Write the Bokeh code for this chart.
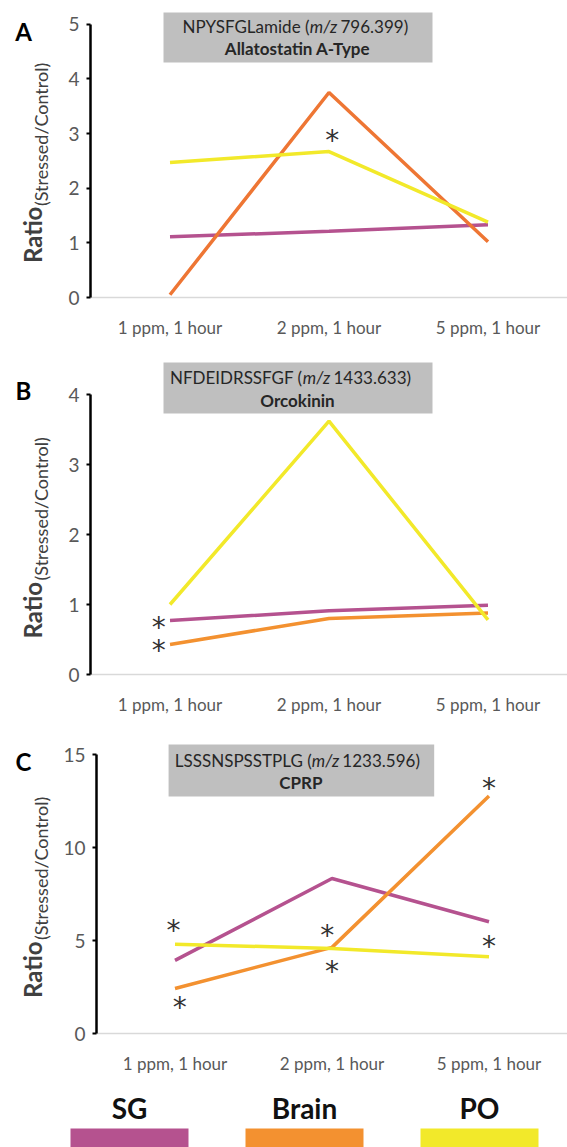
import math

from bokeh.core.properties import value
from bokeh.embed import file_html
from bokeh.layouts import column, row
from bokeh.models import FactorRange, FixedTicker, Range1d
from bokeh.plotting import figure
from bokeh.resources import INLINE

# ---------------------------------------------------------------- data
doses = ["1 ppm, 1 hour", "2 ppm, 1 hour", "5 ppm, 1 hour"]
tissues = ["SG", "Brain", "PO"]
tissue_colors = ["#B5528F", "#F39130", "#F2E92A"]

# A: NPYSFGLamide, allatostatin A-type
ast_sg = [1.11, 1.21, 1.33]
ast_brain = [0.05, 3.75, 1.02]
ast_po = [2.47, 2.67, 1.38]
ast_star_dose = [1]
ast_star_y = [2.97]
ast_star_dx = [0.02]

# B: NFDEIDRSSFGF, orcokinin
ork_sg = [0.77, 0.91, 0.99]
ork_brain = [0.43, 0.80, 0.88]
ork_po = [1.00, 3.62, 0.78]
ork_star_dose = [0, 0]
ork_star_y = [0.74, 0.42]
ork_star_dx = [-0.07, -0.07]

# C: LSSSNSPSSTPLG, CPRP
cprp_sg = [3.93, 8.33, 6.01]
cprp_brain = [2.42, 4.63, 12.77]
cprp_po = [4.80, 4.57, 4.12]
cprp_star_dose = [0, 0, 1, 1, 2, 2]
cprp_star_y = [5.79, 1.65, 5.52, 3.62, 13.44, 4.93]
cprp_star_dx = [-0.01, 0.03, -0.03, 0.0, 0.0, 0.0]

# ---------------------------------------------------------------- layout
W = 567
SIDE_W = 60          # strip holding the panel letter and the y-axis title
AXIS_W = 30          # room for the y tick labels
FRAME_LEFT = SIDE_W + AXIS_W
CAT_W = 159
FRAME_W = CAT_W * len(doses)
FONT = "Lato"
GREY_TEXT = "#595959"


def side_strip(fig_h, frame_top, frame_bottom, letter, letter_cy, label_start):
    # y data = pixels measured up from the bottom of the strip
    s = figure(width=SIDE_W, height=fig_h, x_range=Range1d(0, SIDE_W),
               y_range=Range1d(fig_h - frame_bottom, fig_h - frame_top),
               output_backend="svg", toolbar_location=None,
               min_border_left=0, min_border_right=0,
               min_border_top=frame_top, min_border_bottom=fig_h - frame_bottom,
               x_axis_type=None, y_axis_type=None)
    s.outline_line_color = None
    s.grid.visible = False
    s.text(x=[23], y=[fig_h - letter_cy], text=[letter], text_font=value(FONT),
           text_font_size="24px", text_font_style="bold", text_color="black",
           text_align="center", text_baseline="middle")
    s.text(x=[32], y=[fig_h - label_start], text=["Ratio"], angle=math.pi / 2,
           text_font=value(FONT), text_font_size="24px", text_font_style="bold",
           text_color="#404040", text_align="left", text_baseline="middle")
    s.text(x=[40], y=[fig_h - label_start + 58], text=["(Stressed/Control)"],
           angle=math.pi / 2, text_font=value(FONT), text_font_size="18px",
           text_color="#404040", text_align="left", text_baseline="middle")
    return s


def make_panel(fig_h, frame_top, frame_bottom, ymax_px, ymax, ticks,
               sg, brain, po, brain_color,
               star_dose, star_y, star_dx,
               letter, letter_cy, seq, mz, family,
               box_top, box_bottom, line1_y, line2_y, mz_cx):
    ppu = (frame_bottom - ymax_px) / ymax
    y_end = (frame_bottom - frame_top) / ppu

    def xd(px):
        return (px - FRAME_LEFT) / CAT_W

    def yd(py):
        return (frame_bottom - py) / ppu

    p = figure(width=W - SIDE_W, height=fig_h,
               x_range=FactorRange(*doses), y_range=Range1d(0, y_end),
               output_backend="svg", toolbar_location=None,
               min_border_left=AXIS_W, min_border_right=W - FRAME_LEFT - FRAME_W,
               min_border_top=frame_top, min_border_bottom=fig_h - frame_bottom)
    p.outline_line_color = None
    p.grid.visible = False

    # y axis
    p.yaxis.ticker = FixedTicker(ticks=ticks)
    p.yaxis.bounds = (0, ymax)
    p.yaxis.axis_line_color = "black"
    p.yaxis.axis_line_width = 2.5
    p.yaxis.major_tick_line_color = "black"
    p.yaxis.major_tick_line_width = 2
    p.yaxis.major_tick_out = 4
    p.yaxis.major_tick_in = 0
    p.yaxis.minor_tick_line_color = None
    p.yaxis.major_label_standoff = 7
    p.yaxis.major_label_text_font = FONT
    p.yaxis.major_label_text_font_size = "19px"
    p.yaxis.major_label_text_color = GREY_TEXT

    # x axis
    p.xaxis.axis_line_color = "#D9D9D9"
    p.xaxis.axis_line_width = 1.5
    p.xaxis.major_tick_line_color = None
    p.xaxis.major_label_standoff = 13
    p.xaxis.major_label_text_font = FONT
    p.xaxis.major_label_text_font_size = "17px"
    p.xaxis.major_label_text_color = GREY_TEXT

    # peptide title box
    p.quad(left=xd(163), right=xd(432), top=yd(box_top), bottom=yd(box_bottom),
           fill_color="#BFBFBF", line_color=None)
    p.text(x=[xd(mz_cx - 14)], y=[yd(line1_y)], text=[seq + " ("],
           text_font=value(FONT), text_font_size="17px", text_color="#262626",
           text_align="right", text_baseline="middle")
    p.text(x=[xd(mz_cx)], y=[yd(line1_y)], text=["m/z"],
           text_font=value(FONT), text_font_size="17px", text_color="#262626",
           text_font_style="italic", text_align="center", text_baseline="middle")
    p.text(x=[xd(mz_cx + 17)], y=[yd(line1_y)], text=[mz + ")"],
           text_font=value(FONT), text_font_size="17px", text_color="#262626",
           text_align="left", text_baseline="middle")
    p.text(x=[xd(297)], y=[yd(line2_y)], text=[family],
           text_font=value(FONT), text_font_size="17px", text_color="#262626",
           text_font_style="bold", text_align="center", text_baseline="middle")

    # series lines
    for vals, color in zip([sg, brain, po], [tissue_colors[0], brain_color, tissue_colors[2]]):
        p.line(x=doses, y=vals, line_color=color, line_width=3.5)

    # significance marks
    p.text(x=[d + 0.5 + dx for d, dx in zip(star_dose, star_dx)], y=star_y,
           text=["*"] * len(star_y), text_font=value("DejaVu Sans"),
           text_font_size="28px", text_color="#333333", text_align="center",
           text_baseline="middle", y_offset=5)

    label_start = (ymax_px + frame_bottom) / 2 + 104
    strip = side_strip(fig_h, frame_top, frame_bottom, letter, letter_cy, label_start)
    return row(strip, p)


rowA = make_panel(340, 5, 302, 24, 5, [0, 1, 2, 3, 4, 5],
                  ast_sg, ast_brain, ast_po, "#EE7634",
                  ast_star_dose, ast_star_y, ast_star_dx,
                  "A", 31, "NPYSFGLamide", "796.399", "Allatostatin A-Type",
                  12, 63, 26, 49, 323)
rowB = make_panel(380, 15, 334, 54, 4, [0, 1, 2, 3, 4],
                  ork_sg, ork_brain, ork_po, tissue_colors[1],
                  ork_star_dose, ork_star_y, ork_star_dx,
                  "B", 50, "NFDEIDRSSFGF", "1433.633", "Orcokinin",
                  22, 73, 37, 60, 316)
rowC = make_panel(370, 15, 313, 34, 15, [0, 5, 10, 15],
                  cprp_sg, cprp_brain, cprp_po, tissue_colors[1],
                  cprp_star_dose, cprp_star_y, cprp_star_dx,
                  "C", 41, "LSSSNSPSSTPLG", "1233.596", "CPRP",
                  24, 76, 40, 62, 322)

# ---------------------------------------------------------------- legend strip
LEG_H = 57
pL = figure(width=W, height=LEG_H, x_range=Range1d(0, W), y_range=Range1d(LEG_H, 0),
            output_backend="svg", toolbar_location=None, min_border=0,
            x_axis_type=None, y_axis_type=None)
pL.outline_line_color = None
pL.grid.visible = False
centers = [129 + 175 * i for i in range(len(tissues))]
pL.quad(left=[c - 59 for c in centers], right=[c + 59 for c in centers],
        top=38, bottom=LEG_H + 5, fill_color=tissue_colors, line_color=None)
pL.text(x=centers, y=[17] * len(tissues), text=tissues, text_font=value(FONT),
        text_font_size="28px", text_font_style="bold", text_color="#111111",
        text_align="center", text_baseline="middle")

layout = column(rowA, rowB, rowC, pL)
open("out.html", "w").write(file_html(layout, INLINE))
